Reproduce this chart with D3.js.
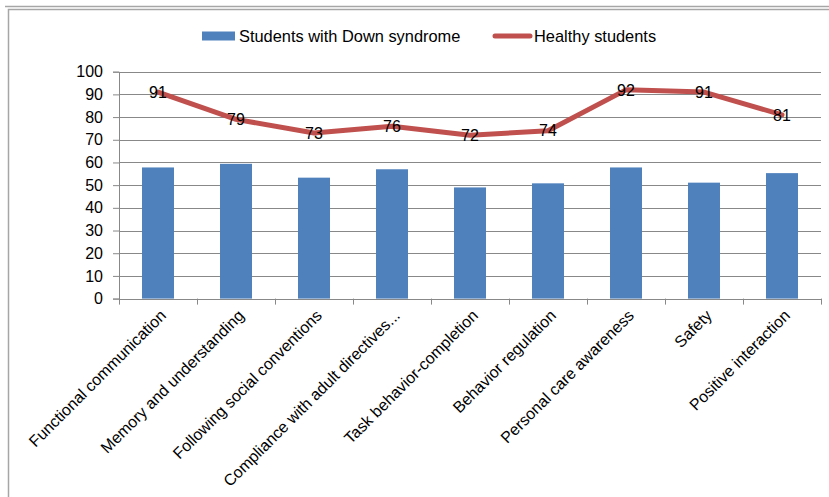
<!DOCTYPE html>
<html>
<head>
<meta charset="utf-8">
<script src="https://cdn.jsdelivr.net/npm/d3@7"></script>
<style>
  html, body { margin: 0; padding: 0; background: #fff; }
  svg { display: block; }
  text { font-family: "Liberation Sans", Arial, sans-serif; fill: #000; }
</style>
</head>
<body>
<svg id="chart" width="829" height="497"></svg>
<script>
const categories = [
  "Functional communication",
  "Memory and understanding",
  "Following social conventions",
  "Compliance with adult directives...",
  "Task behavior-completion",
  "Behavior regulation",
  "Personal care awareness",
  "Safety",
  "Positive interaction"
];
const downValues = [57.8, 59.4, 53.3, 57.0, 49.0, 50.8, 57.8, 51.1, 55.3];
const healthyValues = [91, 79, 73, 76, 72, 74, 92, 91, 81];
const yTicks = [0, 10, 20, 30, 40, 50, 60, 70, 80, 90, 100];
const seriesNames = ["Students with Down syndrome", "Healthy students"];

const barColor = "#4F81BD";
const lineColor = "#C0504D";
const gridColor = "#888888";

const svg = d3.select("#chart");

// chart frame (partially cut off, as in the reference)
svg.append("line").attr("x1", 5).attr("x2", 829).attr("y1", 6.5).attr("y2", 6.5)
  .attr("stroke", "#a6a6a6").attr("stroke-width", 1.5);
svg.append("rect").attr("x", 8.5).attr("y", 9.5).attr("width", 900).attr("height", 600)
  .attr("fill", "none").attr("stroke", "#a6a6a6").attr("stroke-width", 1.5);

const x = d3.scaleBand().domain(categories).range([119, 821]).padding(0);
const y = d3.scaleLinear().domain([0, 100]).range([298.6, 71.7]);

// gridlines
svg.append("g").selectAll("line").data(yTicks.filter(d => d > 0)).join("line")
  .attr("x1", 119).attr("x2", 821)
  .attr("y1", d => Math.round(y(d)) + 0.5).attr("y2", d => Math.round(y(d)) + 0.5)
  .attr("stroke", gridColor).attr("stroke-width", 1);

// y axis
const yAxis = d3.axisLeft(y).tickValues(yTicks).tickSize(6).tickPadding(10)
  .tickFormat(d3.format("d"));
const gy = svg.append("g").attr("transform", "translate(119,0)").call(yAxis);
gy.select(".domain").attr("stroke", gridColor);
gy.selectAll(".tick line").attr("stroke", gridColor);
gy.selectAll(".tick text").attr("font-size", 16).attr("font-family", "Liberation Sans, Arial, sans-serif").attr("fill", "#000");

// bars
const bw = x.bandwidth() * 0.41;
svg.append("g").selectAll("rect").data(downValues).join("rect")
  .attr("x", (d, i) => x(categories[i]) + x.bandwidth() / 2 - bw / 2)
  .attr("y", d => y(d))
  .attr("width", bw)
  .attr("height", d => y(0) - y(d))
  .attr("fill", barColor);

// x axis
svg.append("line").attr("x1", 119).attr("x2", 821)
  .attr("y1", Math.round(y(0)) + 0.5).attr("y2", Math.round(y(0)) + 0.5)
  .attr("stroke", gridColor);
const boundaries = categories.map(c => x(c)).concat([x.range()[1]]);
svg.append("g").selectAll("line").data(boundaries).join("line")
  .attr("x1", d => Math.round(d) + 0.5).attr("x2", d => Math.round(d) + 0.5)
  .attr("y1", y(0)).attr("y2", y(0) + 6)
  .attr("stroke", gridColor);

// x labels
svg.append("g").selectAll("text").data(categories).join("text")
  .attr("transform", d => `translate(${x(d) + x.bandwidth() / 2 + 5},${y(0) + 14}) rotate(-45)`)
  .attr("text-anchor", "end")
  .attr("dy", "0.35em")
  .attr("font-size", 16)
  .text(d => d);

// line
const line = d3.line()
  .x((d, i) => x(categories[i]) + x.bandwidth() / 2)
  .y(d => y(d));
svg.append("path").datum(healthyValues)
  .attr("d", line)
  .attr("fill", "none")
  .attr("stroke", lineColor)
  .attr("stroke-width", 5)
  .attr("stroke-linejoin", "round")
  .attr("stroke-linecap", "round");

// data labels
svg.append("g").selectAll("text").data(healthyValues).join("text")
  .attr("x", (d, i) => x(categories[i]) + x.bandwidth() / 2)
  .attr("y", d => y(d))
  .attr("dy", "0.36em")
  .attr("text-anchor", "middle")
  .attr("font-size", 16)
  .text(d => d);

// legend
const lg = svg.append("g");
lg.append("rect").attr("x", 202).attr("y", 31.5).attr("width", 33).attr("height", 9).attr("fill", barColor);
lg.append("text").attr("x", 239).attr("y", 36).attr("dy", "0.35em").attr("font-size", 16.4).text(seriesNames[0]);
lg.append("line").attr("x1", 495).attr("x2", 530).attr("y1", 36).attr("y2", 36)
  .attr("stroke", lineColor).attr("stroke-width", 5).attr("stroke-linecap", "round");
lg.append("text").attr("x", 534).attr("y", 36).attr("dy", "0.35em").attr("font-size", 16.4).text(seriesNames[1]);
</script>
</body>
</html>
